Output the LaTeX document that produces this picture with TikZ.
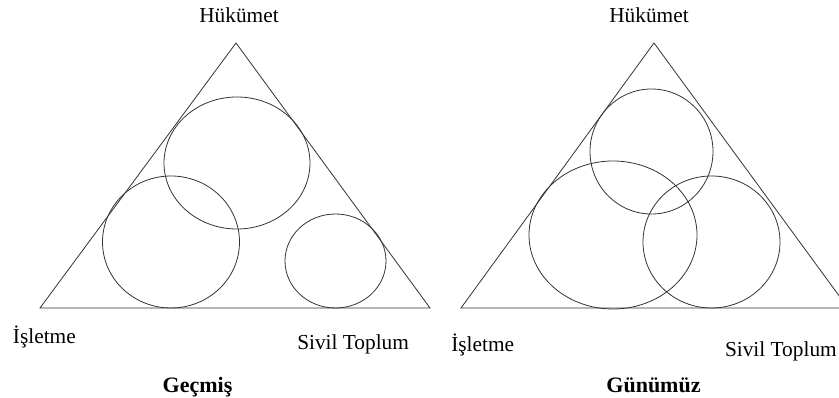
\documentclass[tikz,border=0pt]{standalone}
\usepackage{fontspec}
\setmainfont{Liberation Serif}
\usetikzlibrary{positioning}

\tikzset{
  edge/.style={draw=black!80, line width=0.6pt},
  lbl/.style={inner sep=0pt, font=\fontsize{16}{18}\selectfont},
  ttl/.style={inner sep=0pt, font=\fontsize{16.5}{18}\selectfont\bfseries}
}

\begin{document}
\begin{tikzpicture}[x=0.75pt, y=-0.75pt]
\useasboundingbox (0,0) rectangle (839,398);
% Gecmis
\coordinate (hL) at (236,43);
\coordinate (iL) at (40,308);
\coordinate (sL) at (430,308);
\draw [edge] (iL) -- (hL) -- (sL) -- cycle;
\draw [edge] (237,163) ellipse (73 and 66);
\draw [edge] (171,242) ellipse (68.5 and 66);
\draw [edge] (335.5,261) ellipse (50.5 and 47);
\node [lbl, anchor=base] at (239,23) {Hükümet};
\node [lbl, anchor=base west] at (12.7,344) {İşletme};
\node [lbl, anchor=base west] at (297,350) {Sivil Toplum};
\node [ttl, anchor=base] at (197.5,393) {Geçmiş};
% Gunumuz
\coordinate (hR) at (654,43);
\coordinate (iR) at (461,308);
\coordinate (sR) at (848,308);
\draw [edge] (iR) -- (hR) -- (sR) -- cycle;
\draw [edge] (651.5,151.5) ellipse (61.5 and 62.5);
\draw [edge] (613,235) ellipse (84 and 74);
\draw [edge] (711.5,242) ellipse (68.5 and 66);
\node [lbl, anchor=base] at (649,23) {Hükümet};
\node [lbl, anchor=base west] at (451,352) {İşletme};
\node [lbl, anchor=base east] at (837,357) {Sivil Toplum};
\node [ttl, anchor=base] at (653.5,393) {Günümüz};
\end{tikzpicture}
\end{document}
